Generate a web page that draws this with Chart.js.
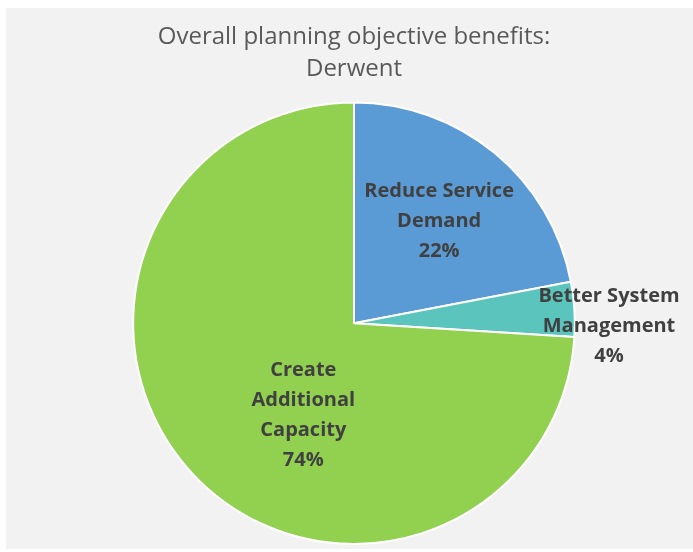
<!DOCTYPE html>
<html>
<head>
<meta charset="utf-8">
<script src="https://cdn.jsdelivr.net/npm/chart.js@4"></script>
<style>
  body { margin: 0; background: #fff; }
  #wrap { position: absolute; left: 6px; top: 8px; width: 687px; height: 541px; background: #f2f2f2; }
</style>
</head>
<body>
<div id="wrap"><canvas id="pie"></canvas></div>
<script>
const titleLines = ['Overall planning objective benefits:', 'Derwent']
const labels = ['Reduce Service Demand', 'Better System Management', 'Create Additional Capacity']
const labelLines = [['Reduce Service', 'Demand'], ['Better System', 'Management'], ['Create', 'Additional', 'Capacity']]
const values = [22, 4, 74]
const colors = ['#5b9bd5', '#5bc4bd', '#92d050']

// where each label sits: angle (deg, clockwise from top) and distance as fraction of radius
const labelSpots = [
  { angle: 40, dist: 0.6 },
  { angle: 90.8, dist: 1.155 },
  { angle: 208.7, dist: 0.478 },
]

const sliceLabels = {
  id: 'sliceLabels',
  afterDatasetsDraw(chart) {
    const ctx = chart.ctx
    const arcs = chart.getDatasetMeta(0).data
    ctx.save()
    ctx.font = 'bold 20px "Open Sans"'
    ctx.fillStyle = '#404040'
    ctx.textAlign = 'center'
    ctx.textBaseline = 'middle'
    arcs.forEach((arc, i) => {
      const spot = labelSpots[i]
      const a = (spot.angle * Math.PI) / 180
      const x = arc.x + Math.sin(a) * arc.outerRadius * spot.dist
      const y = arc.y - Math.cos(a) * arc.outerRadius * spot.dist
      const lines = labelLines[i].concat([values[i] + '%'])
      const top = y - ((lines.length - 1) * 30) / 2
      lines.forEach((line, j) => ctx.fillText(line, x, top + j * 30))
    })
    ctx.restore()
  },
}

new Chart(document.getElementById('pie'), {
  type: 'pie',
  data: {
    labels: labels,
    datasets: [
      {
        data: values,
        backgroundColor: colors,
        borderColor: '#ffffff',
        borderWidth: 2,
      },
    ],
  },
  options: {
    responsive: true,
    maintainAspectRatio: false,
    animation: false,
    layout: { padding: { left: 9, bottom: 4 } },
    plugins: {
      legend: { display: false },
      tooltip: { enabled: false },
      title: {
        display: true,
        text: titleLines,
        color: '#595959',
        font: { family: 'Open Sans', size: 24, weight: 'normal', lineHeight: 1.3 },
        padding: { top: 14, bottom: 17 },
      },
    },
  },
  plugins: [sliceLabels],
})
</script>
</body>
</html>
